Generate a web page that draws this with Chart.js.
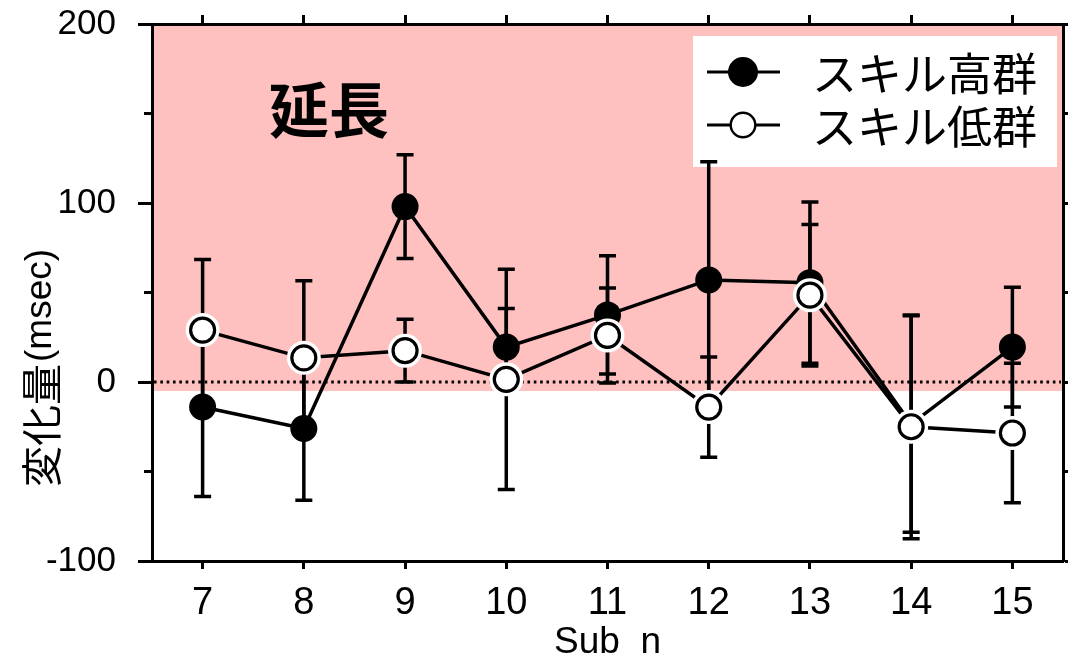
<!DOCTYPE html>
<html>
<head>
<meta charset="utf-8">
<script src="https://cdn.jsdelivr.net/npm/chart.js@4.4.1/dist/chart.umd.min.js"></script>
<style>
  html, body { margin: 0; padding: 0; background: #fff; overflow: hidden; }
  #wrap { position: relative; width: 1068px; height: 680px; }
</style>
</head>
<body>
<div id="wrap"><canvas id="c"></canvas></div>
<script>
// Subjects on the x axis
const subjects = ['7', '8', '9', '10', '11', '12', '13', '14', '15'];
// スキル高群: mean change and error (msec)
const highMean = [-14, -26, 98, 19.5, 37.5, 57, 55.5, -23.5, 19.5];
const highErr  = [50, 40, 29, 21.5, 33, 66, 45, 60.5, 33.5];
// スキル低群: mean change and error (msec)
const lowMean  = [29, 13.5, 17.5, 1.5, 26, -14, 48.5, -25, -28.5];
const lowErr   = [39.5, 43, 17.5, 61.5, 26.5, 28, 39.5, 62.5, 39];
// y axis range and labelled ticks
const yRange = [-100, 200];
const yLabelled = [200, 100, 0, -100];
// shaded "延長" (lengthening) band, in msec
const extendBand = [-5, 200];
const seriesNames = ['スキル高群', 'スキル低群'];
const bandLabel = '延長';
const xTitle = 'Sub  n';
const yTitleMain = '変化量';
const yTitleUnit = '(msec)';

const LATIN = '"Liberation Sans", Arial, sans-serif';
const CJK = '"Noto Sans CJK JP", "Noto Sans CJK SC", sans-serif';
const LINE_W = 3.5;

const shading = {
  id: 'shading',
  beforeDraw(chart) {
    const { ctx, chartArea: a, scales: { y } } = chart;
    const top = y.getPixelForValue(extendBand[1]);
    const bot = y.getPixelForValue(extendBand[0]);
    ctx.save();
    ctx.fillStyle = '#ffc0c0';
    ctx.fillRect(a.left, top, a.right - a.left, bot - top);
    ctx.restore();
  }
};

function drawWhiskers(ctx, x, y, means, errs) {
  ctx.save();
  ctx.strokeStyle = '#000';
  ctx.lineWidth = LINE_W;
  ctx.lineCap = 'butt';
  means.forEach((m, i) => {
    const px = x.getPixelForValue(i);
    const hi = y.getPixelForValue(m + errs[i]);
    const lo = y.getPixelForValue(m - errs[i]);
    ctx.beginPath();
    ctx.moveTo(px, hi); ctx.lineTo(px, lo);
    ctx.moveTo(px - 8.5, hi); ctx.lineTo(px + 8.5, hi);
    ctx.moveTo(px - 8.5, lo); ctx.lineTo(px + 8.5, lo);
    ctx.stroke();
  });
  ctx.restore();
}

const decorations = {
  id: 'decorations',
  beforeDatasetsDraw(chart) {
    const { ctx, chartArea: a, scales: { x, y } } = chart;

    // dotted zero line
    const y0 = y.getPixelForValue(0);
    ctx.save();
    ctx.strokeStyle = '#000';
    ctx.lineWidth = 2.8;
    ctx.setLineDash([2.6, 3.73]);
    ctx.beginPath();
    ctx.moveTo(a.left + 2, y0);
    ctx.lineTo(a.right - 2, y0);
    ctx.stroke();
    ctx.restore();

    // minor ticks on the left axis
    ctx.save();
    ctx.strokeStyle = '#000';
    ctx.lineWidth = 3;
    for (let v = yRange[0] + 50; v < yRange[1]; v += 100) {
      const py = y.getPixelForValue(v);
      ctx.beginPath();
      ctx.moveTo(a.left - 8, py);
      ctx.lineTo(a.left, py);
      ctx.stroke();
    }
    ctx.restore();

    // band label
    ctx.save();
    ctx.fillStyle = '#000';
    ctx.font = 'bold 60px ' + CJK;
    ctx.textAlign = 'center';
    ctx.textBaseline = 'middle';
    ctx.fillText(bandLabel, a.left + 177, a.top + 86);
    ctx.restore();

    // y axis title, reading upwards
    ctx.save();
    ctx.translate(41, a.bottom - 74);
    ctx.rotate(-Math.PI / 2);
    ctx.fillStyle = '#000';
    ctx.textAlign = 'left';
    ctx.textBaseline = 'middle';
    ctx.font = '41px ' + CJK;
    ctx.fillText(yTitleMain, 0, 0);
    const w = ctx.measureText(yTitleMain).width;
    ctx.font = '37px ' + LATIN;
    ctx.fillText(yTitleUnit, w + 2, 0);
    ctx.restore();

    // legend box
    const bx = a.right - 370, by = a.top + 12, bw = 364, bh = 131;
    ctx.save();
    ctx.fillStyle = '#fff';
    ctx.fillRect(bx, by, bw, bh);
    const rows = [by + 36, by + 89];
    ctx.strokeStyle = '#000';
    ctx.lineWidth = 3;
    rows.forEach((ry, k) => {
      ctx.beginPath();
      ctx.moveTo(bx + 14, ry);
      ctx.lineTo(bx + 87, ry);
      ctx.stroke();
      ctx.beginPath();
      if (k === 0) {
        ctx.arc(bx + 50, ry, 15, 0, Math.PI * 2);
        ctx.fillStyle = '#000';
        ctx.fill();
      } else {
        ctx.arc(bx + 50, ry, 12.3, 0, Math.PI * 2);
        ctx.fillStyle = '#fff';
        ctx.fill();
        ctx.lineWidth = 2.4;
        ctx.stroke();
      }
    });
    ctx.fillStyle = '#000';
    ctx.font = '45px ' + CJK;
    ctx.textAlign = 'left';
    ctx.textBaseline = 'middle';
    ctx.fillText(seriesNames[0], bx + 119, rows[0] + 2);
    ctx.fillText(seriesNames[1], bx + 119, rows[1] + 2);
    ctx.restore();

    // error bars
    drawWhiskers(ctx, x, y, highMean, highErr);
    drawWhiskers(ctx, x, y, lowMean, lowErr);
  }
};

const axisBorder = { display: true, width: 3, color: '#000' };

// fixed axis box sizes; no extra room reserved for overhanging labels
function fixBox(w, h) {
  return s => {
    if (w !== null) s.width = w;
    if (h !== null) s.height = h;
    s.paddingLeft = 0; s.paddingRight = 0; s.paddingTop = 0; s.paddingBottom = 0;
  };
}

new Chart(document.getElementById('c'), {
  type: 'line',
  data: {
    labels: subjects,
    datasets: [
      {
        label: seriesNames[0], data: highMean, order: 4,
        borderColor: '#000', borderWidth: LINE_W,
        pointRadius: 13.5, pointHoverRadius: 13.5,
        pointBackgroundColor: '#000', pointBorderWidth: 0
      },
      {
        label: seriesNames[1], data: lowMean, order: 3,
        borderColor: '#000', borderWidth: LINE_W, pointRadius: 0, pointHoverRadius: 0
      },
      {
        label: 'halo', data: lowMean, order: 2, showLine: false,
        pointRadius: 17, pointHoverRadius: 17,
        pointBackgroundColor: '#fff', pointBorderWidth: 0
      },
      {
        label: 'marker', data: lowMean, order: 1, showLine: false,
        pointRadius: 12, pointHoverRadius: 12,
        pointBackgroundColor: '#fff', pointBorderColor: '#000', pointBorderWidth: 3.2
      }
    ]
  },
  options: {
    responsive: true,
    maintainAspectRatio: false,
    devicePixelRatio: 1,
    animation: false,
    events: [],
    layout: { padding: 0, autoPadding: false },
    plugins: { legend: { display: false }, tooltip: { enabled: false } },
    scales: {
      x: {
        type: 'category', position: 'bottom', offset: true,
        grid: { offset: false, drawOnChartArea: false, tickLength: 8, tickWidth: 3, tickColor: '#000' },
        border: axisBorder,
        ticks: { color: '#000', padding: 12, font: { family: LATIN, size: 38 }, maxRotation: 0, autoSkip: false },
        title: { display: true, text: xTitle, color: '#000', font: { family: LATIN, size: 37 }, padding: { top: 0, bottom: 15 } },
        afterFit: fixBox(null, 680 - 561)
      },
      x2: {
        type: 'category', position: 'top', offset: true, labels: subjects,
        grid: { offset: false, drawOnChartArea: false, tickLength: 9, tickWidth: 3, tickColor: '#000' },
        border: axisBorder,
        ticks: { display: false },
        afterFit: fixBox(null, 24)
      },
      y: {
        type: 'linear', position: 'left', min: yRange[0], max: yRange[1],
        grid: {
          drawOnChartArea: false, tickLength: 14, tickWidth: 3,
          tickColor: c => (c.tick && yLabelled.includes(c.tick.value)) ? '#000' : 'rgba(0,0,0,0)'
        },
        border: axisBorder,
        ticks: {
          stepSize: 50, color: '#000', padding: 22,
          font: { family: LATIN, size: 35 },
          callback: v => yLabelled.includes(v) ? String(v) : ''
        },
        afterFit: fixBox(152, null)
      },
      y2: {
        type: 'linear', position: 'right', min: yRange[0], max: yRange[1],
        grid: { drawOnChartArea: false, tickLength: 5, tickWidth: 3, tickColor: '#000' },
        border: axisBorder,
        ticks: { display: false, stepSize: 50 },
        afterFit: fixBox(5, null)
      }
    }
  },
  plugins: [shading, decorations]
});
</script>
</body>
</html>
